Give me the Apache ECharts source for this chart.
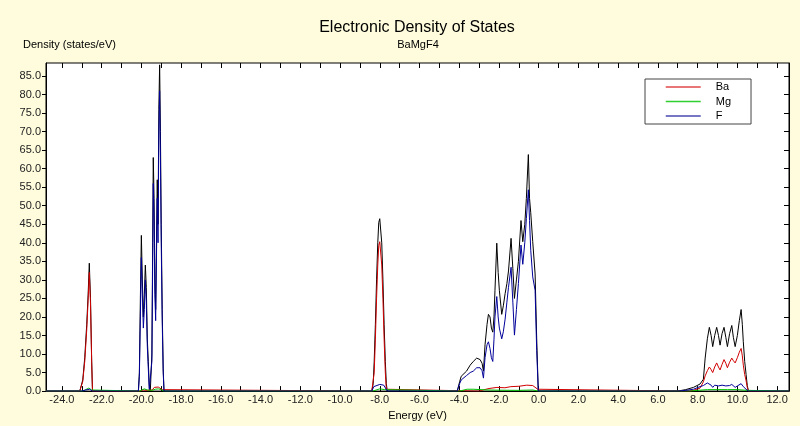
<!DOCTYPE html>
<html>
<head>
<meta charset="utf-8">
<script src="https://cdn.jsdelivr.net/npm/echarts@6/dist/echarts.min.js"></script>
<style>
html,body{margin:0;padding:0;background:#fefcdc;}
#chart{width:800px;height:426px;}
</style>
</head>
<body>
<div id="chart"></div>
<script>
// ---- tick labels ----
const xTicks = [-24,-22,-20,-18,-16,-14,-12,-10,-8,-6,-4,-2,0,2,4,6,8,10,12];
const xSmallTicks = [-24,-23,-22,-21,-20,-19,-18,-17,-16,-15,-14,-13,-12,-11,-10,-9,-8,-7,-6,-5,-4,-3,-2,-1,0,1,2,3,4,5,6,7,8,9,10,11,12];
const yTicks = [0,5,10,15,20,25,30,35,40,45,50,55,60,65,70,75,80,85];

// ---- Total DOS (black) ----
const totalEnergy = [-24.8,-23.10,-23.05,-22.95,-22.85,-22.75,-22.68,-22.62,-22.56,-22.50,-22.46,
  -20.15,-20.10,-20.05,-20.00,-19.95,-19.90,-19.85,-19.80,-19.75,-19.70,-19.65,-19.60,-19.55,-19.50,-19.47,-19.43,-19.40,-19.36,-19.32,-19.28,-19.24,-19.20,-19.16,-19.12,-19.08,-19.04,-19.00,-18.95,-18.90,-18.86,
  -8.40,-8.33,-8.28,-8.22,-8.16,-8.10,-8.05,-8.00,-7.95,-7.90,-7.84,-7.78,-7.72,-7.67,-7.62,
  -4.10,-4.04,-3.98,-3.90,-3.80,-3.63,-3.45,-3.29,-3.12,-2.95,-2.85,-2.78,-2.70,-2.60,-2.53,-2.45,-2.38,-2.31,-2.25,-2.20,-2.11,-2.04,-1.98,-1.86,-1.78,-1.69,-1.60,-1.52,-1.39,-1.30,-1.22,-1.12,-1.02,-0.89,-0.80,-0.70,-0.62,-0.52,-0.46,-0.40,-0.30,-0.18,-0.10,-0.02,
  7.00,7.40,7.79,8.12,8.29,8.38,8.49,8.59,8.68,8.76,8.86,8.96,9.05,9.13,9.23,9.33,9.42,9.50,9.61,9.72,9.80,9.89,10.00,10.10,10.19,10.25,10.30,10.37,10.44,10.50,10.56,12.6];
const totalDos = [0,0,0.5,3,9,18,26,34.5,25,8,0,
  0,5,25,42,30,20,26,34,28,14,8,1,0,0.5,10,40,63,52,30,22,40,57,45,76,88,70,45,22,6,0,
  0,2,8,18,30,40,45.5,46.5,46,40,30,18,8,2,0,
  0,0,2.5,4,4.5,5.4,7,8,8.9,8.5,7.5,5.4,12.5,18,20.7,20,17,15.9,20,27.2,39.9,32,27.2,20.7,23,26.3,29,32.4,41.2,33,25,30,35,46,40.3,45,52,63.8,52,48.1,40.3,31.6,14.1,0,
  0,0.4,1.0,1.9,3.2,8.9,14.1,17.2,15,12,15,17.2,15,12.4,15.5,17.2,14.5,12,15.5,17.7,14.5,12,15,19,22.0,18,13.3,8,4.5,1.5,0,0];

// ---- Ba (red) ----
const baEnergy = [-24.8,-23.10,-23.05,-22.95,-22.85,-22.75,-22.68,-22.62,-22.56,-22.50,-22.46,
  -20.10,-20.00,-19.90,-19.70,-19.60,-19.45,-19.35,-19.25,-19.15,-19.05,-18.95,-18.88,
  -8.40,-8.33,-8.28,-8.22,-8.16,-8.10,-8.05,-8.00,-7.95,-7.90,-7.84,-7.78,-7.72,-7.67,-7.62,
  -3.0,-2.8,-2.5,-2.1,-1.7,-1.4,-1.0,-0.6,-0.3,-0.05,0.0,
  7.6,7.79,8.12,8.29,8.38,8.49,8.59,8.68,8.76,8.86,8.96,9.05,9.13,9.23,9.33,9.42,9.50,9.61,9.72,9.80,9.89,10.00,10.10,10.19,10.25,10.30,10.37,10.44,10.50,10.56,12.6];
const baDos = [0,0,0.4,2.6,8,16.5,24.5,32,23.5,7.5,0,
  0,0.5,0.3,0.2,0,0.3,1.0,0.8,1.1,0.9,0.4,0,
  0,0.5,5,14,25,34,39.3,40.3,40,34,25,14,5,0.5,0,
  0,0.3,0.7,1.0,0.9,1.2,1.3,1.6,1.5,0.5,0,
  0,0.2,0.8,2.5,4.1,5.5,6.5,5.8,5.0,6.5,7.6,6.5,5.7,7.2,8.5,7.5,6.3,7.8,8.9,8.2,7.6,9.0,10.5,11.5,9.5,7,4.5,2.8,1,0,0];

// ---- Mg (green) ----
const mgEnergy = [-24.8,-22.95,-22.8,-22.65,-22.5,-22.42,
  -20.1,-20.0,-19.85,-19.7,-19.6,-19.45,-19.3,-19.15,-19.0,-18.88,
  -8.35,-8.25,-8.0,-7.75,-7.65,
  -4.0,-3.9,-3.6,-3.3,-2.9,-2.5,-2.0,-1.0,-0.3,-0.02,
  7.6,8.0,8.5,9.0,9.5,10.0,10.5,10.58,12.6];
const mgDos = [0,0,0.4,0.8,0.3,0,
  0,0.4,0.6,0.3,0,0.2,0.5,0.6,0.4,0,
  0,0.4,0.6,0.4,0,
  0,0.4,0.5,0.5,0.4,0.3,0.25,0.2,0.3,0,
  0,0.2,0.4,0.4,0.4,0.4,0.2,0,0];

// ---- F (blue) ----
const fEnergy = [-24.8,-23.0,-22.8,-22.6,-22.46,
  -20.15,-20.10,-20.05,-20.00,-19.95,-19.90,-19.85,-19.80,-19.75,-19.70,-19.65,-19.60,-19.55,-19.50,-19.47,-19.43,-19.40,-19.36,-19.32,-19.28,-19.24,-19.20,-19.16,-19.12,-19.08,-19.04,-19.00,-18.95,-18.90,-18.86,
  -8.40,-8.30,-8.20,-8.00,-7.80,-7.70,-7.62,
  -4.10,-4.04,-3.98,-3.90,-3.80,-3.63,-3.45,-3.29,-3.12,-2.95,-2.85,-2.78,-2.70,-2.60,-2.53,-2.45,-2.38,-2.31,-2.25,-2.20,-2.11,-2.04,-1.98,-1.86,-1.78,-1.69,-1.60,-1.52,-1.39,-1.30,-1.22,-1.12,-1.02,-0.89,-0.80,-0.70,-0.62,-0.52,-0.46,-0.40,-0.30,-0.18,-0.10,-0.02,
  7.00,7.40,7.79,8.12,8.29,8.38,8.49,8.59,8.68,8.76,8.86,8.96,9.05,9.13,9.23,9.33,9.42,9.50,9.61,9.72,9.80,9.89,10.00,10.10,10.19,10.25,10.30,10.37,10.44,10.50,10.56,12.6];
const fDos = [0,0,0.3,0.5,0,
  0,4,20,36,26,17,22,30,24,12,6,0.5,0,0,8,35,56,46,26,19,36,52,40,70,81,63,40,19,5,0,
  0,1.2,1.6,1.8,1.6,1.2,0,
  0,0,2,3,3.5,4.2,5,5.4,6.3,6.3,5.5,3.5,9,12.5,13.3,11.5,9,8,14,20,25.5,20,17,14.1,16,19.4,24,28,33.4,24,15.1,22,29,39.4,34.2,40,46.5,54.3,46,38,30.8,27.2,11,0,
  0,0.2,0.5,1.2,1.5,1.8,2.2,2.4,1.6,1.0,1.6,2.1,1.4,1.0,1.6,2.0,1.4,1.0,1.5,1.8,1.3,1.0,1.4,1.8,2.0,1.6,1.2,0.8,0.5,0.2,0,0];

const pairs = (xs, ys) => xs.map((x, i) => [x, ys[i]]);

const FONT = 'Liberation Sans';
const X_MIN = -24.8, X_MAX = 12.6, Y_MIN = 0, Y_MAX = 88.5;
const C_TOTAL = '#000000', C_BA = '#d00000', C_MG = '#00c000', C_F = '#000099';

const chart = echarts.init(document.getElementById('chart'), null, {renderer: 'canvas'});

const lineSeries = (name, color, xs, ys) => ({
  name, type: 'line', data: pairs(xs, ys), showSymbol: false, symbol: 'none',
  lineStyle: {color, width: 1}, itemStyle: {color}, animation: false, clip: true
});

chart.setOption({
  backgroundColor: '#fefcdc',
  animation: false,
  textStyle: {fontFamily: FONT},
  graphic: [
    {type: 'text', x: 417, y: 28, style: {text: 'Electronic Density of States', fontSize: 16, fontFamily: FONT, fill: '#000', textAlign: 'center', textVerticalAlign: 'middle'}},
    {type: 'text', x: 418, y: 45, style: {text: 'BaMgF4', fontSize: 11, fontFamily: FONT, fill: '#000', textAlign: 'center', textVerticalAlign: 'middle'}},
    {type: 'text', x: 23, y: 45, style: {text: 'Density (states/eV)', fontSize: 11, fontFamily: FONT, fill: '#000', textAlign: 'left', textVerticalAlign: 'middle'}}
  ],
  legend: {
    orient: 'vertical', left: 645, top: 79,
    data: [
      {name: 'Ba', lineStyle: {color: '#e04848'}},
      {name: 'Mg', lineStyle: {color: '#30d030'}},
      {name: 'F', lineStyle: {color: '#4848b0'}}
    ],
    itemStyle: {opacity: 0},
    lineStyle: {width: 1.5},
    backgroundColor: '#fff', borderColor: '#444', borderWidth: 1, borderRadius: 0,
    padding: [1.5, 20, 1.5, 20], itemWidth: 35, itemHeight: 11, itemGap: 1.5,
    textStyle: {fontSize: 11, lineHeight: 13, fontFamily: FONT, color: '#000', padding: [0, 0, 0, 10]}
  },
  grid: {left: 46, right: 11, top: 63, bottom: 25, show: true, backgroundColor: '#ffffff', borderColor: '#000', borderWidth: 1},
  xAxis: [
    {type: 'value', position: 'bottom', min: X_MIN, max: X_MAX,
     axisLine: {show: true, onZero: false, lineStyle: {color: '#000', width: 1}},
     axisTick: {show: false},
     axisLabel: {customValues: xTicks, formatter: v => v.toFixed(1), fontSize: 11, fontFamily: FONT, color: '#222', margin: 3},
     splitLine: {show: false},
     name: 'Energy (eV)', nameLocation: 'middle', nameGap: 17,
     nameTextStyle: {fontSize: 11, fontFamily: FONT, color: '#000'}},
    {type: 'value', position: 'bottom', min: X_MIN, max: X_MAX,
     axisLine: {show: false, onZero: false}, axisLabel: {show: false}, splitLine: {show: false},
     axisTick: {show: true, inside: true, length: 5, customValues: xSmallTicks, lineStyle: {color: '#000'}}},
    {type: 'value', position: 'top', min: X_MIN, max: X_MAX,
     axisLine: {show: false, onZero: false}, axisLabel: {show: false}, splitLine: {show: false},
     axisTick: {show: true, inside: true, length: 5, customValues: xSmallTicks, lineStyle: {color: '#000'}}}
  ],
  yAxis: [
    {type: 'value', position: 'left', min: Y_MIN, max: Y_MAX,
     axisLine: {show: true, onZero: false, lineStyle: {color: '#000'}},
     axisTick: {show: true, inside: false, length: 4, customValues: yTicks, lineStyle: {color: '#000'}},
     axisLabel: {customValues: yTicks, formatter: v => v.toFixed(1), fontSize: 11, fontFamily: FONT, color: '#222', margin: 5},
     splitLine: {show: false}},
    {type: 'value', position: 'right', min: Y_MIN, max: Y_MAX,
     axisLine: {show: true, onZero: false, lineStyle: {color: '#000'}},
     axisTick: {show: true, inside: true, length: 5, customValues: yTicks, lineStyle: {color: '#000'}},
     axisLabel: {show: false}, splitLine: {show: false}}
  ],
  series: [
    lineSeries('Total', C_TOTAL, totalEnergy, totalDos),
    lineSeries('Ba', C_BA, baEnergy, baDos),
    lineSeries('Mg', C_MG, mgEnergy, mgDos),
    lineSeries('F', C_F, fEnergy, fDos)
  ]
});
</script>
</body>
</html>
